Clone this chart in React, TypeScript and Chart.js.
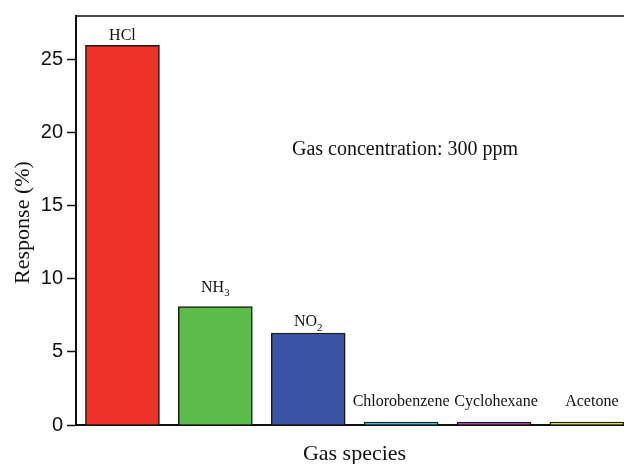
import React, { useEffect, useRef } from "react";
import { Chart, registerables } from "chart.js";

Chart.register(...registerables);

const categories = ["HCl", "NH₃", "NO₂", "Chlorobenzene", "Cyclohexane", "Acetone"];
const responses = [26, 8.1, 6.3, 0.2, 0.2, 0.2];
const barColors = ["#EE3129", "#5DBB4C", "#3A53A4", "#3FC1D6", "#A748AB", "#E5E03C"];
const yTicks = [0, 5, 10, 15, 20, 25];
const yAxisTitle = "Response (%)";
const xAxisTitle = "Gas species";
const note = "Gas concentration: 300 ppm";

const SERIF = '"Liberation Serif", "Times New Roman", serif';
const SANS = '"Liberation Sans", Arial, sans-serif';

const SUBS = "₀₁₂₃₄₅₆₇₈₉";

function drawRich(ctx: CanvasRenderingContext2D, text: string, cx: number, baseline: number, size: number) {
  const segs: { t: string; sub: boolean }[] = [];
  for (const ch of text) {
    const idx = SUBS.indexOf(ch);
    const sub = idx >= 0;
    const c = sub ? String(idx) : ch;
    if (segs.length && segs[segs.length - 1].sub === sub) segs[segs.length - 1].t += c;
    else segs.push({ t: c, sub });
  }
  const subSize = size * 0.68;
  let total = 0;
  const widths = segs.map((s) => {
    ctx.font = `${s.sub ? subSize : size}px ${SERIF}`;
    const w = ctx.measureText(s.t).width;
    total += w;
    return w;
  });
  let x = cx - total / 2;
  ctx.textAlign = "left";
  ctx.textBaseline = "alphabetic";
  segs.forEach((s, i) => {
    ctx.font = `${s.sub ? subSize : size}px ${SERIF}`;
    ctx.fillText(s.t, x, s.sub ? baseline + size * 0.3 : baseline);
    x += widths[i];
  });
}

const annotatePlugin = {
  id: "annotate",
  afterDraw(chart: any, _args: any, opts: any) {
    const ctx: CanvasRenderingContext2D = chart.ctx;
    const area = chart.chartArea;
    const meta = chart.getDatasetMeta(0);
    ctx.save();
    // top frame line
    ctx.strokeStyle = "#111";
    ctx.lineWidth = 1.5;
    ctx.beginPath();
    ctx.moveTo(area.left, area.top);
    ctx.lineTo(area.right, area.top);
    ctx.stroke();

    ctx.fillStyle = "#111";
    meta.data.forEach((bar: any, i: number) => {
      const gap = opts.labelGap[i] ?? 8;
      const dx = opts.labelShift[i] ?? 0;
      drawRich(ctx, categories[i], bar.x + dx, bar.y - gap, 16);
    });

    // note
    ctx.font = `20px ${SERIF}`;
    ctx.textAlign = "left";
    ctx.textBaseline = "alphabetic";
    ctx.fillText(note, 292, 155);

    // x title
    ctx.font = `22px ${SERIF}`;
    ctx.textAlign = "center";
    ctx.fillText(xAxisTitle, (area.left + 633) / 2, 460);

    // y title
    ctx.translate(23, (area.top + area.bottom) / 2 + 2);
    ctx.rotate(-Math.PI / 2);
    ctx.textBaseline = "middle";
    ctx.fillText(yAxisTitle, 0, 0);
    ctx.restore();
  },
};

export default function App() {
  const ref = useRef<HTMLCanvasElement | null>(null);

  useEffect(() => {
    if (!ref.current) return;
    const chart = new Chart(ref.current, {
      type: "bar",
      data: {
        datasets: [
          {
            data: responses.map((v, i) => ({ x: i, y: v })),
            backgroundColor: barColors,
            borderColor: "#1a1a1a",
            borderWidth: 1.5,
            borderSkipped: "bottom",
            barThickness: 74,
          },
        ],
      },
      options: {
        responsive: false,
        animation: false,
        layout: { padding: { top: 13, right: 0, left: 0, bottom: 0 } },
        plugins: {
          legend: { display: false },
          tooltip: { enabled: false },
          annotate: { labelGap: [5, 15, 7, 16, 16, 16], labelShift: [0, 0, 0, 0, 2, 5] },
        } as any,
        scales: {
          x: {
            type: "linear",
            min: -0.5,
            max: 5.4,
            offset: false,
            grid: { display: false, offset: false },
            ticks: { display: false },
            border: { display: true, color: "#111", width: 2 },
            afterFit: (s: any) => {
              s.height = 39;
            },
          },
          y: {
            min: 0,
            max: 28,
            afterBuildTicks: (s: any) => {
              s.ticks = yTicks.map((v) => ({ value: v }));
            },
            ticks: {
              includeBounds: false,
              color: "#111",
              padding: 4,
              font: { family: SANS, size: 20 },
            },
            grid: {
              display: true,
              drawOnChartArea: false,
              drawTicks: true,
              tickLength: 9,
              tickColor: "#111",
              tickWidth: 1.5,
            },
            border: { display: true, color: "#111", width: 2 },
            afterFit: (s: any) => {
              s.width = 76;
            },
          },
        },
      },
      plugins: [annotatePlugin],
    });
    return () => chart.destroy();
  }, []);

  return (
    <div style={{ position: "absolute", left: 0, top: 0, width: 624, height: 464, background: "#fff" }}>
      <canvas ref={ref} width={624} height={464} />
    </div>
  );
}
